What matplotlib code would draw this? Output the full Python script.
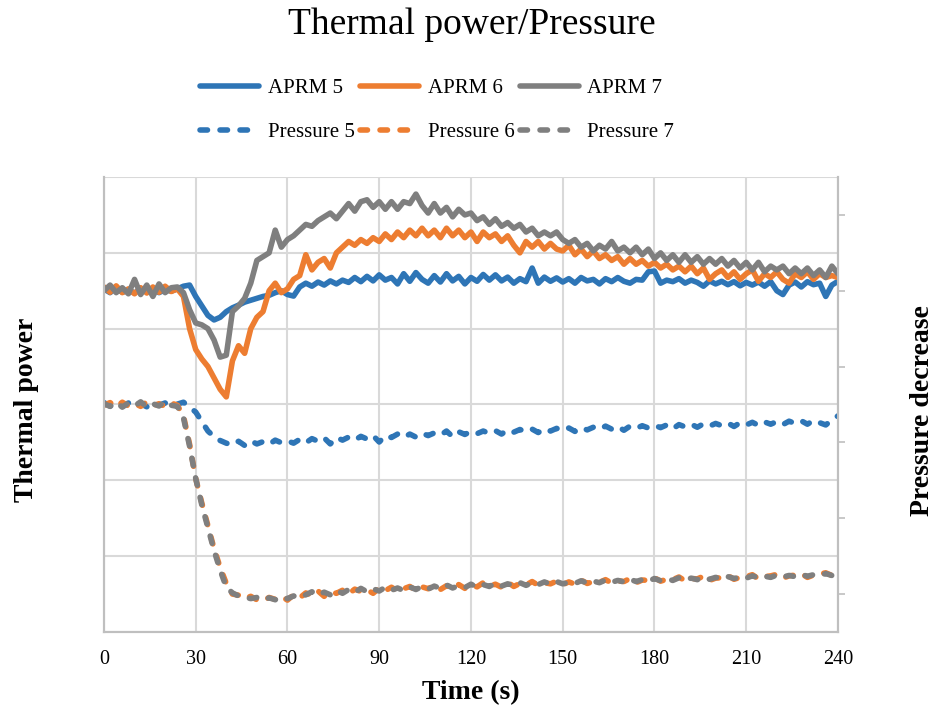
import numpy as np
import matplotlib
matplotlib.use('Agg')
import matplotlib.pyplot as plt

plt.rcParams['font.family'] = ['Liberation Serif', 'DejaVu Serif']

# time axis (s), one reading every 2 s
time_s = np.arange(0, 241, 2)

# thermal power (left axis units)
aprm5 = [90.5, 89.5, 90.8, 89.6, 90.2, 89.4, 90.6, 89.8, 90.4, 89.5,
         90.3, 89.9, 90.5, 91.2, 91.5, 88.5, 86.0, 83.5, 82.3, 83.0,
         84.5, 85.5, 86.2, 87.0, 87.5, 88.0, 88.5, 88.8, 89.5, 90.0,
         89.0, 88.6, 91.0, 92.0, 91.2, 92.3, 91.5, 92.6, 91.8, 92.8,
         92.2, 93.5, 92.4, 93.8, 92.6, 94.2, 92.8, 93.5, 91.8, 94.5,
         92.5, 94.8, 93.0, 92.0, 94.0, 92.3, 94.5, 92.6, 93.8, 91.8,
         93.5, 92.5, 94.3, 92.8, 94.2, 92.6, 93.6, 92.0, 93.2, 92.4,
         96.0, 92.0, 93.6, 92.5, 93.4, 92.3, 93.2, 92.0, 93.5, 92.6,
         93.0, 91.8, 93.2, 92.4, 93.5, 92.5, 92.0, 93.0, 92.8, 95.0,
         95.2, 92.0, 92.8, 92.4, 93.2, 92.0, 92.8, 92.2, 91.2, 92.6,
         91.8, 92.5, 91.6, 92.4, 91.3, 92.2, 91.5, 92.3, 91.2, 92.4,
         90.0, 89.0, 91.5, 92.3, 91.0, 92.4, 91.6, 92.0, 88.5, 91.5,
         92.5]
aprm6 = [91.0, 89.6, 91.3, 89.5, 90.5, 89.2, 90.8, 89.4, 91.0, 89.6,
         91.2, 89.8, 90.5, 88.5, 80.0, 74.5, 72.0, 70.0, 67.0, 64.0,
         62.0, 71.5, 75.5, 73.5, 80.0, 83.0, 84.5, 90.0, 92.0, 89.5,
         90.5, 93.0, 94.0, 99.5, 95.5, 97.5, 98.5, 96.0, 100.0, 101.5,
         103.0, 102.0, 103.5, 102.5, 104.0, 103.0, 105.0, 103.5, 105.5, 104.0,
         106.0, 104.5, 106.5, 104.5, 106.0, 104.0, 106.5, 104.5, 106.0, 104.0,
         105.5, 103.0, 105.5, 104.0, 105.0, 103.0, 104.5, 102.0, 100.0, 103.0,
         101.5, 103.0, 101.0, 102.5, 101.0, 100.5, 102.0, 99.5, 101.0, 99.0,
         100.5, 98.5, 99.5, 98.0, 99.0, 97.0, 98.5, 97.0, 98.0, 96.5,
         97.5, 96.0, 97.0, 95.5, 96.5, 95.0, 96.5, 94.5, 96.0, 93.0,
         94.5, 95.5, 93.5, 95.0, 93.0, 94.5, 95.5, 92.5, 94.5, 93.5,
         95.0, 93.0, 92.0, 94.5, 93.5, 95.0, 93.0, 94.5, 93.5, 94.0,
         93.5]
aprm7 = [90.0, 91.5, 89.5, 90.8, 89.2, 93.0, 89.0, 91.5, 88.5, 91.8,
         89.5, 90.8, 91.0, 89.5, 85.0, 81.5, 81.0, 80.0, 77.0, 72.5,
         73.0, 84.5, 86.0, 88.0, 92.0, 98.0, 99.0, 100.0, 106.0, 101.5,
         103.5, 104.5, 106.0, 107.5, 107.0, 108.5, 109.5, 110.5, 109.0, 111.0,
         113.0, 111.0, 113.5, 114.0, 112.0, 113.5, 111.5, 113.5, 111.5, 113.5,
         113.0, 115.5, 112.5, 110.5, 113.0, 110.5, 112.0, 109.5, 111.5, 110.0,
         110.5, 108.5, 109.5, 107.5, 109.0, 107.0, 108.0, 106.5, 107.5, 105.5,
         106.5, 104.5, 105.5, 104.5, 105.5, 103.5, 102.5, 103.5, 101.5, 102.5,
         100.5, 102.0, 101.0, 103.0, 100.5, 101.5, 100.0, 101.5, 99.5, 101.0,
         98.5, 100.0, 98.0, 99.5, 97.5, 99.5, 97.5, 99.0, 97.0, 98.5,
         97.0, 98.5, 96.5, 98.0, 96.0, 97.5, 95.5, 97.5, 95.0, 96.5,
         95.5, 96.5, 94.5, 96.0, 94.5, 96.0, 94.0, 95.5, 93.5, 96.5,
         94.5]

# pressure decrease (right axis units)
press5 = [50.5, 49.6, 50.3, 49.5, 50.4, 49.7, 50.2, 49.4, 50.3, 49.8,
          50.4, 49.9, 50.1, 50.6, 49.3, 48.0, 45.5, 43.0, 41.5, 40.5,
          39.8, 39.3, 40.3, 39.2, 40.4, 39.6, 40.2, 39.5, 40.6, 39.9,
          40.4, 39.8, 40.8, 39.9, 41.0, 40.3, 41.2, 39.6, 41.3, 40.6,
          41.4, 40.6, 41.6, 40.9, 41.8, 40.1, 41.8, 41.3, 42.2, 41.3,
          42.2, 41.4, 42.4, 41.8, 42.5, 41.9, 43.0, 41.5, 42.8, 42.1,
          42.9, 42.3, 43.0, 42.4, 43.1, 42.2, 43.3, 42.7, 43.4, 42.8,
          43.5, 42.6, 43.6, 43.0, 43.7, 43.1, 43.8, 42.9, 43.9, 43.3,
          44.0, 43.4, 44.3, 43.5, 44.2, 43.2, 44.3, 43.7, 44.4, 43.8,
          44.5, 43.9, 44.6, 43.6, 44.7, 44.1, 44.8, 44.0, 44.9, 44.3,
          45.0, 44.4, 45.1, 44.2, 45.2, 44.6, 45.3, 44.5, 45.4, 44.8,
          45.5, 44.7, 45.6, 45.0, 45.7, 44.8, 45.8, 45.2, 44.6, 45.9,
          47.0]
press6 = [49.8, 50.5, 49.4, 50.6, 49.6, 50.3, 49.5, 50.7, 49.7, 50.2,
          49.5, 50.4, 49.8, 47.0, 39.5, 30.5, 24.0, 18.0, 12.0, 7.0,
          2.8, 0.0, -0.3, -1.2, -0.6, -1.5, -1.8, -0.9, -1.4, -0.6,
          -1.6, -0.2, -1.0, 0.3, -0.4, 0.8, -0.6, 0.5, 0.2, 1.0,
          0.0, 1.3, 0.7, 1.1, 0.2, 1.6, 0.9, 1.8, 0.8, 1.4,
          2.0, 1.0, 1.9, 1.4, 2.3, 1.2, 2.2, 1.6, 2.5, 1.5,
          2.4, 1.9, 3.0, 2.1, 2.6, 1.8, 3.1, 2.0, 2.8, 2.4,
          3.3, 2.3, 3.0, 2.7, 3.4, 2.5, 3.2, 2.6, 3.7, 2.8,
          3.3, 3.1, 3.8, 2.9, 3.5, 3.3, 4.1, 3.0, 3.7, 3.6,
          4.3, 3.4, 3.9, 3.8, 4.5, 3.5, 4.1, 4.0, 4.7, 3.6,
          4.2, 4.3, 4.9, 3.9, 4.4, 4.6, 5.1, 4.0, 4.6, 4.8,
          5.2, 4.2, 4.8, 5.0, 5.4, 4.4, 5.0, 5.3, 5.6, 4.9,
          5.7]
press7 = [50.2, 49.5, 50.6, 49.3, 50.4, 49.6, 50.7, 49.4, 50.2, 49.6,
          50.8, 49.8, 49.5, 46.5, 39.0, 30.5, 23.5, 17.5, 11.5, 6.3,
          1.8, 0.3, -0.5, -0.8, -1.2, -0.9, -1.6, -1.0, -1.5, -0.7,
          -1.2, -0.5, -1.0, -0.2, 0.6, -0.3, 0.5, -0.2, 1.0, 0.2,
          1.2, 0.4, 1.5, 0.6, 1.4, 0.8, 1.8, 1.0, 1.6, 0.9,
          1.9, 1.2, 2.0, 1.3, 2.1, 1.5, 2.4, 1.6, 2.2, 1.7,
          2.6, 1.8, 2.5, 2.0, 2.9, 2.1, 2.7, 2.2, 3.0, 2.3,
          2.9, 2.5, 3.2, 2.6, 3.3, 2.7, 3.1, 2.8, 3.5, 2.9,
          3.4, 3.0, 3.7, 3.1, 3.6, 3.2, 3.9, 3.3, 3.8, 3.4,
          4.1, 3.5, 4.0, 3.6, 4.3, 3.7, 4.2, 3.8, 4.5, 3.9,
          4.4, 4.0, 4.6, 4.1, 4.5, 4.2, 4.8, 4.3, 4.7, 4.4,
          5.0, 4.5, 4.9, 4.6, 5.2, 4.7, 5.1, 4.8, 5.4, 4.9,
          5.3]

blue, orange, gray = '#2E75B6', '#ED7D31', '#7F7F7F'
grid_col = '#D9D9D9'
lw = 4.0

fig = plt.figure(figsize=(9.34, 7.17), dpi=100)
ax = fig.add_axes([0.1113, 0.1186, 0.7859, 0.6345])
ax2 = ax.twinx()

h_a5, = ax.plot(time_s, aprm5, color=blue, lw=lw, solid_capstyle='round',
                solid_joinstyle='round', label='APRM 5')
h_a6, = ax.plot(time_s, aprm6, color=orange, lw=lw, solid_capstyle='round',
                solid_joinstyle='round', label='APRM 6')
h_a7, = ax.plot(time_s, aprm7, color=gray, lw=lw, solid_capstyle='round',
                solid_joinstyle='round', label='APRM 7')

dash_kw = dict(lw=lw, linestyle=(0, (1.35, 2.25)), dash_capstyle='round',
               dash_joinstyle='round')
h_p5, = ax2.plot(time_s, press5, color=blue, label='Pressure 5', **dash_kw)
h_p6, = ax2.plot(time_s, press6, color=orange, label='Pressure 6', **dash_kw)
h_p7, = ax2.plot(time_s, press7, color=gray, label='Pressure 7', **dash_kw)

ax.set_xlim(0, 240)
ax.set_xticks(np.arange(0, 241, 30))
ax.set_ylim(0, 120)
ax.set_yticks(np.arange(0, 121, 20))
ax.yaxis.set_ticklabels([])
ax.grid(True, color=grid_col, lw=1.5)
ax.set_axisbelow(True)
ax.tick_params(axis='x', length=0, pad=13, labelsize=14.5)
ax.tick_params(axis='y', length=0)

ax2.set_ylim(-10, 110)
ax2.set_yticks(np.arange(0, 101, 20))
ax2.yaxis.set_ticklabels([])
ax2.tick_params(axis='y', direction='out', length=5, width=1.2, color='#BFBFBF')

for a in (ax, ax2):
    a.spines['top'].set_visible(False)
    for s in ('left', 'right', 'bottom'):
        a.spines[s].set_color('#BFBFBF')
        a.spines[s].set_linewidth(1.5)

ax.set_xlabel('Time (s)', fontsize=20, fontweight='bold', labelpad=8)
fig.text(0.028, 0.428, 'Thermal power', rotation=90, fontsize=20, fontweight='bold',
         ha='center', va='center')
fig.text(0.988, 0.428, 'Pressure decrease', rotation=90, fontsize=20, fontweight='bold',
         ha='center', va='center')
fig.text(0.505, 0.965, 'Thermal power/Pressure', fontsize=27, ha='center', va='center')

handles = [h_a5, h_p5, h_a6, h_p6, h_a7, h_p7]
fig.legend(handles=handles, labels=[h.get_label() for h in handles], ncol=3,
           loc='center', bbox_to_anchor=(0.468, 0.846), frameon=False, fontsize=15,
           handlelength=2.85, handletextpad=0.4, columnspacing=0.25, labelspacing=1.15)

fig.savefig('out.png', dpi=100)
